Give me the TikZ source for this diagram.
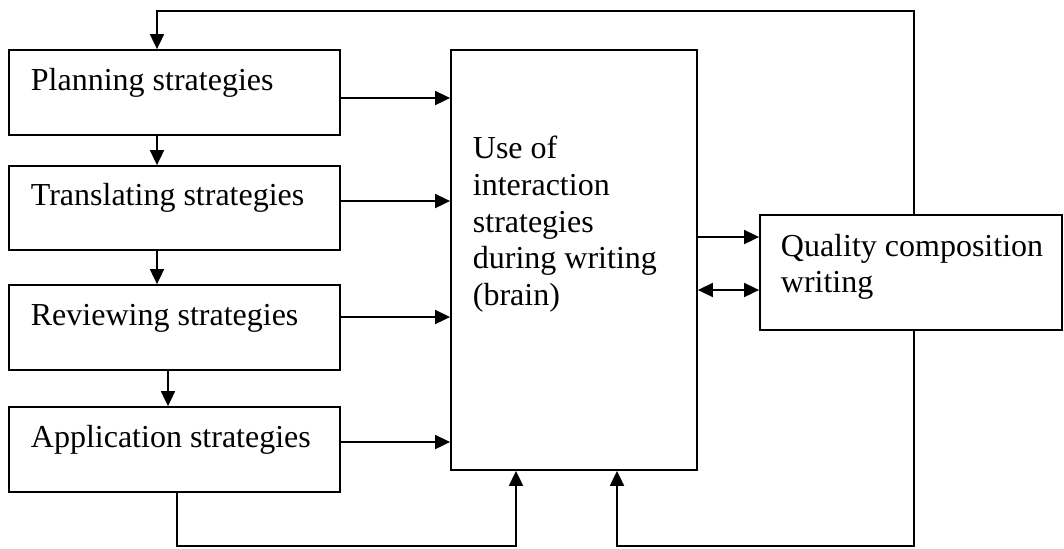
\documentclass[tikz,border=0pt]{standalone}
\usepackage{fontspec}
\setmainfont{Liberation Serif}
\usetikzlibrary{arrows.meta,fit}
\begin{document}
\begin{tikzpicture}[x=0.5pt,y=-0.5pt,line width=0.9pt,
  box/.style={draw, line width=0.9pt, rectangle, inner sep=0pt},
  txt/.style={inner sep=0pt, align=left, font=\fontsize{16}{18.4}\selectfont},
  arr/.style={-{Triangle[length=7.5pt,width=7pt]}},
  dbl/.style={{Triangle[length=7.5pt,width=7pt]}-{Triangle[length=7.5pt,width=7pt]}}]
\useasboundingbox (0,0) rectangle (1064,548);
% boxes
\node[box, fit={(9,50) (340,135)}] (plan) {};
\node[box, fit={(9,166) (340,250)}] (trans) {};
\node[box, fit={(9,285) (340,370)}] (rev) {};
\node[box, fit={(9,407) (340,492)}] (app) {};
\node[box, fit={(451,50) (697,470)}] (use) {};
\node[box, fit={(760,215) (1062,330)}] (qual) {};
% texts
\node[txt, anchor=base west] (tplan) at (30,90) {Planning strategies};
\node[txt, anchor=base west] (ttrans) at (30,205) {Translating strategies};
\node[txt, anchor=base west] (trev) at (30,325) {Reviewing strategies};
\node[txt, anchor=base west] (tapp) at (30,447) {Application strategies};
\node[txt, anchor=north west] (tuse) at (472,135) {Use of\\interaction\\strategies\\during writing\\(brain)};
\node[txt, anchor=north west] (tqual) at (780,233) {Quality composition\\writing};
% vertical arrows
\draw[arr] (157,0 |- plan.south) -- (157,0 |- trans.north);
\draw[arr] (157,0 |- trans.south) -- (157,0 |- rev.north);
\draw[arr] (168,0 |- rev.south) -- (168,0 |- app.north);
% arrows into central box
\draw[arr] (plan.east |- 0,98) -- (use.west |- 0,98);
\draw[arr] (trans.east |- 0,201) -- (use.west |- 0,201);
\draw[arr] (rev.east |- 0,317) -- (use.west |- 0,317);
\draw[arr] (app.east |- 0,442) -- (use.west |- 0,442);
% central to quality
\draw[arr] (use.east |- 0,237) -- (qual.west |- 0,237);
\draw[dbl] (use.east |- 0,290) -- (qual.west |- 0,290);
% feedback top
\coordinate (tr) at (914,11);
\coordinate (tl) at (157,11);
\draw[arr] (914,0 |- qual.north) -- (tr) -- (tl) -- (157,0 |- plan.north);
% bottom loops
\coordinate (bl1) at (177,546);
\coordinate (bl2) at (516,546);
\draw[arr] (177,0 |- app.south) -- (bl1) -- (bl2) -- (516,0 |- use.south);
\coordinate (br1) at (914,546);
\coordinate (br2) at (617,546);
\draw[arr] (914,0 |- qual.south) -- (br1) -- (br2) -- (617,0 |- use.south);
\end{tikzpicture}
\end{document}
